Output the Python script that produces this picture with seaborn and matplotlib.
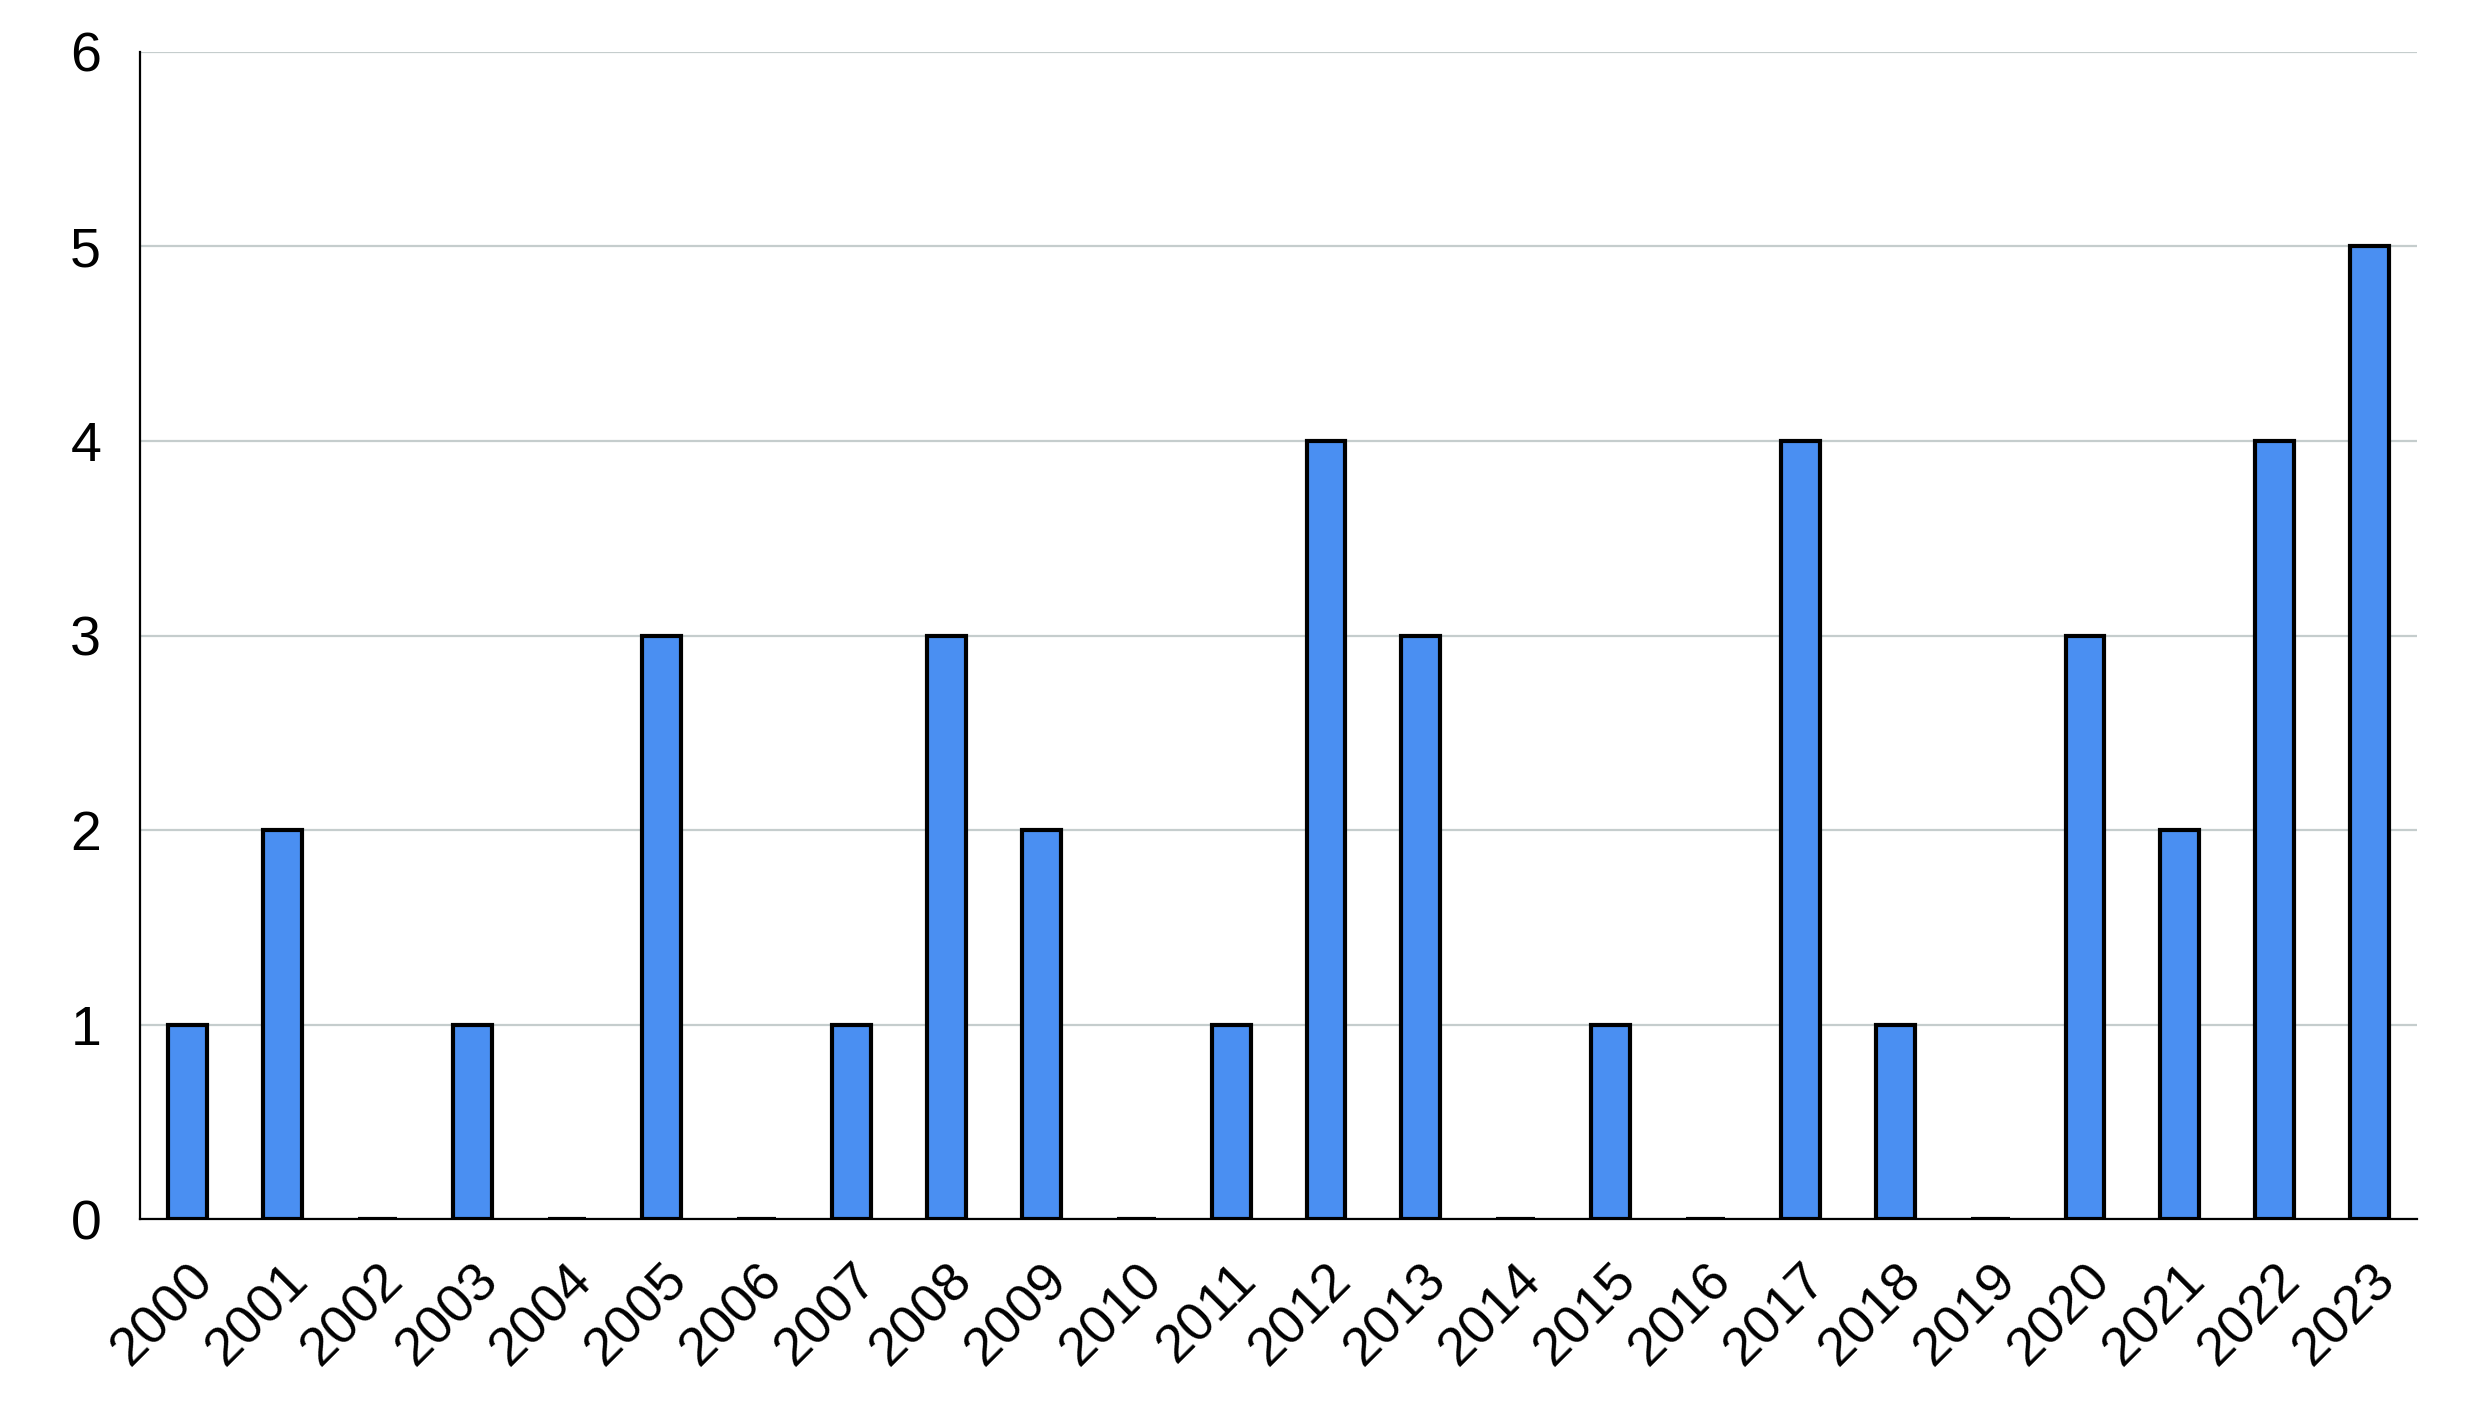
import matplotlib
matplotlib.use("Agg")
import matplotlib.pyplot as plt
import seaborn as sns
import pandas as pd

# data
YEARS  = [str(y) for y in range(2000, 2024)]
COUNTS = [1, 2, 0, 1, 0, 3, 0, 1, 3, 2, 0, 1, 4, 3, 0, 1, 0, 4, 1, 0, 3, 2, 4, 5]
Y_TICKS = [0, 1, 2, 3, 4, 5, 6]

BAR_COLOR  = "#4a8ff2"
GRID_COLOR = "#c5cdcd"

sns.set_style("white")
plt.rcParams["font.family"] = ["Liberation Sans", "DejaVu Sans"]

df = pd.DataFrame({"year": YEARS, "count": COUNTS})

fig = plt.figure(figsize=(24.74, 14.2), dpi=100)
ax = fig.add_axes([0.0566, 0.1415, 0.9204, 0.8219])

sns.barplot(data=df, x="year", y="count", color=BAR_COLOR, width=0.41,
            edgecolor="black", linewidth=3, saturation=1, ax=ax, zorder=3)

ax.set_xlim(-0.5, len(YEARS) - 0.5)
ax.set_ylim(0, 6)
ax.set_yticks(Y_TICKS)
ax.yaxis.grid(True, color=GRID_COLOR, lw=1.6, zorder=0)
ax.set_axisbelow(True)

for side in ["top", "right"]:
    ax.spines[side].set_visible(False)
for side in ["left", "bottom"]:
    ax.spines[side].set_color("black")
    ax.spines[side].set_linewidth(1.6)

ax.tick_params(axis="y", length=0, pad=28, labelsize=40, labelcolor="black")
ax.tick_params(axis="x", length=0, pad=26, labelsize=39, labelcolor="black")
plt.setp(ax.get_xticklabels(), rotation=45, ha="right", rotation_mode="anchor")

ax.set_xlabel("")
ax.set_ylabel("")

fig.savefig("out.png", dpi=100)
